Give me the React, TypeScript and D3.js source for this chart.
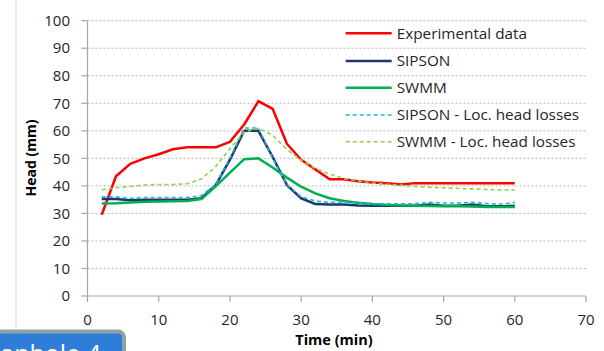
import React from "react";
import * as d3 from "d3";

const time = [2,4,6,8,10,12,14,16,18,20,22,24,26,28,30,32,34,36,38,40,42,44,46,48,50,52,54,56,58,60];
const experimental = [29.5,43.5,48,50,51.5,53.3,54,54,54,56,62.3,70.8,68,55.3,49.5,46,42.4,42.4,41.7,41.2,41,40.5,41,41,41,41,41,41,41,41];
const sipson = [35.2,35.2,34.8,35,35,35,35,35.5,40.3,49.5,60,60,50.5,40.3,35.5,33.4,33.2,33.2,32.9,32.8,32.8,32.8,32.8,33.2,32.8,32.8,33.2,32.6,32.6,32.8];
const sipsonLoc = [36,36,35.5,35.8,35.8,35.8,35.8,36.5,40.5,50,61,61,50,40.5,36,34.5,34,34,33.8,33.5,33.5,33.5,33.5,34,33.8,33.8,34,33.6,33.4,34];
const swmm = [33.6,33.7,34,34.2,34.3,34.4,34.5,35.2,39.8,44.8,49.7,50,46.7,43,39.7,37.3,35.5,34.5,33.9,33.4,33.1,32.9,32.8,32.7,32.6,32.6,32.5,32.3,32.3,32.3];
const swmmLoc = [38.6,39.3,39.8,40.3,40.5,40.5,40.8,42.5,47,53.5,59.5,61,58.4,53.2,49.4,46.3,44.3,42.7,41.8,41,40.6,40.3,39.8,39.5,39.3,39.1,38.9,38.7,38.5,38.5];

const xTicks = [0,10,20,30,40,50,60,70];
const yTicks = [0,10,20,30,40,50,60,70,80,90,100];
const seriesNames = ["Experimental data","SIPSON","SWMM","SIPSON - Loc. head losses","SWMM - Loc. head losses"];

const W = 604, H = 351;
const font = "'Open Sans', sans-serif";

export default function App() {
  const x = d3.scaleLinear().domain([0, 70]).range([87.5, 586]);
  const y = d3.scaleLinear().domain([0, 100]).range([296, 20.7]);
  const series = [
    { name: seriesNames[0], data: experimental, color: "#ff0000", w: 2.5, dash: "" },
    { name: seriesNames[1], data: sipson, color: "#1f3864", w: 2.5, dash: "" },
    { name: seriesNames[2], data: swmm, color: "#00b050", w: 2.5, dash: "" },
    { name: seriesNames[3], data: sipsonLoc, color: "#22b0f0", w: 1.6, dash: "4,3" },
    { name: seriesNames[4], data: swmmLoc, color: "#92d050", w: 1.6, dash: "4,3" },
  ];
  const line = d3.line<number>().x((_, i) => x(time[i])).y((d) => y(d));
  const legendY = [33.3, 61, 87.7, 115, 141.7];
  return (
    <div style={{ position: "fixed", left: 0, top: 0 }}>
      <svg width={W} height={H} style={{ display: "block", background: "#fff" }}>
        <line x1={16} x2={16} y1={0} y2={332} stroke="#d6d6d6" strokeWidth={1} />
        {yTicks.filter((t) => t > 0).map((t) => (
          <line key={t} x1={x(0)} x2={x(70)} y1={y(t)} y2={y(t)} stroke="#b8b8b8" strokeWidth={1} strokeDasharray="2,2" />
        ))}
        <line x1={x(0)} x2={x(0)} y1={y(100)} y2={y(0)} stroke="#a6a6a6" strokeWidth={1.2} />
        <line x1={x(0)} x2={x(70)} y1={y(0)} y2={y(0)} stroke="#a6a6a6" strokeWidth={1.2} />
        {yTicks.map((t) => (
          <g key={t}>
            <line x1={x(0) - 6} x2={x(0)} y1={y(t)} y2={y(t)} stroke="#a6a6a6" strokeWidth={1.2} />
            <text x={70} y={y(t)} dy="0.35em" textAnchor="end" fontFamily={font} fontSize={15} fill="#262626">{t}</text>
          </g>
        ))}
        {xTicks.map((t) => (
          <g key={t}>
            <line x1={x(t)} x2={x(t)} y1={y(0)} y2={y(0) + 6} stroke="#a6a6a6" strokeWidth={1.2} />
            <text x={x(t)} y={320} dy="0.35em" textAnchor="middle" fontFamily={font} fontSize={15} fill="#262626">{t}</text>
          </g>
        ))}
        <text x={334} y={340} dy="0.35em" textAnchor="middle" fontFamily={font} fontSize={14.5} fontWeight="bold" fill="#000">Time (min)</text>
        <text transform={`translate(31,158) rotate(-90)`} dy="0.35em" textAnchor="middle" fontFamily={font} fontSize={14} fontWeight="bold" fill="#000">Head (mm)</text>
        {series.map((s) => (
          <path key={s.name} d={line(s.data) || ""} fill="none" stroke={s.color} strokeWidth={s.w} strokeDasharray={s.dash} strokeLinejoin="round" />
        ))}
        {series.map((s, i) => (
          <g key={s.name}>
            <line x1={345.7} x2={391.7} y1={legendY[i]} y2={legendY[i]} stroke={s.color} strokeWidth={s.w} strokeDasharray={s.dash} />
            <text x={396.7} y={legendY[i]} dy="0.35em" fontFamily={font} fontSize={15.3} fill="#262626">{s.name}</text>
          </g>
        ))}
        <rect x={-10} y={331.5} width={134} height={40} rx={6} fill="#2e7dd8" stroke="#8fa3a3" strokeWidth={4} />
        <text x={101} y={363} textAnchor="end" fontFamily={font} fontSize={25} fill="#fff">Manhole 4</text>
      </svg>
    </div>
  );
}
